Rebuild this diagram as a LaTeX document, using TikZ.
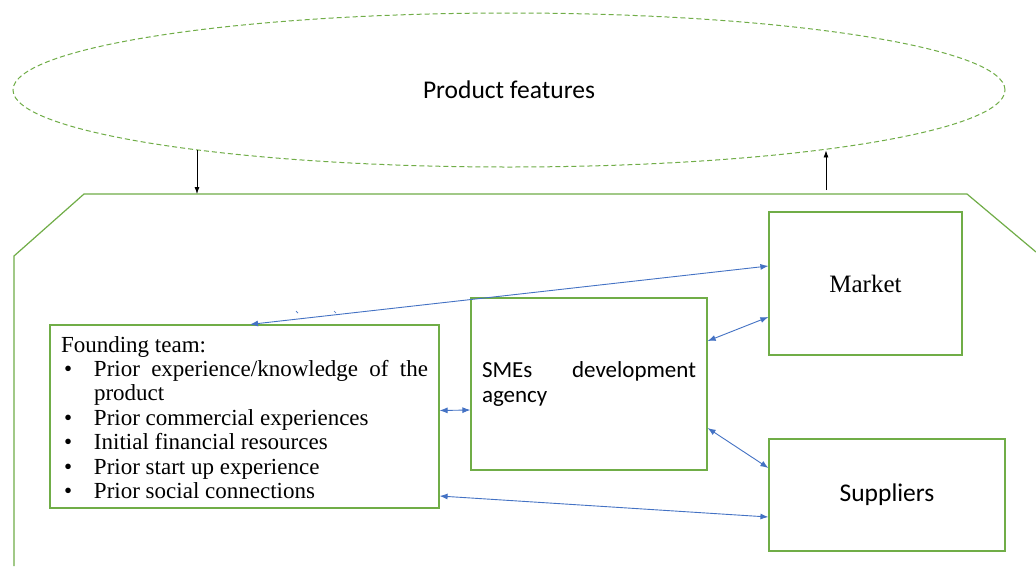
\documentclass[tikz,border=0pt]{standalone}
\usepackage{fontspec}
\setmainfont{Liberation Serif}
\newfontfamily\calib{Carlito}
\usetikzlibrary{shapes.geometric,arrows.meta}
\definecolor{grn}{RGB}{112,173,71}
\definecolor{blu}{RGB}{68,114,196}
\newcommand\bulitem[1]{\par\hangindent=33pt\hangafter=1\noindent\makebox[33pt][l]{\hspace*{3pt}\textbullet}#1}
\begin{document}
\begin{tikzpicture}[x=1pt,y=-1pt,
  gbox/.style={draw=grn,line width=1.2pt,inner sep=0pt},
  link/.style={draw=blu,line width=0.9pt,{Latex[length=8pt,width=6pt]}-{Latex[length=8pt,width=6pt]}},
  blk/.style={draw=black,line width=0.8pt,-{Latex[length=7pt,width=5pt]}}]
\useasboundingbox (0,0) rectangle (1036,566);
\fill[white] (0,0) rectangle (1036,566);
% ellipse
\node[ellipse,draw=grn,line width=1pt,dash pattern=on 5pt off 3pt,minimum width=992pt,minimum height=154pt,inner sep=0pt,font=\calib\fontsize{25.5}{30}\selectfont] (pf) at (509,90) {Product features};
% outer polygon
\coordinate (pa) at (14,566);
\coordinate (pb) at (14,256);
\coordinate (pc) at (84,194);
\coordinate (pd) at (967,194);
\coordinate (pe) at (1036,252);
\draw[grn,line width=1.2pt] (pa) -- (pb) -- (pc) -- (pd) -- (pe);
\coordinate (t1) at (197,194);
\coordinate (t2) at (826,190);
\draw[blk] (t1 |- pf.191) -- (t1);
\draw[blk] (t2) -- (t2 |- pf.-11);
% boxes
\node[gbox,minimum width=389pt,minimum height=183pt] (found) at (244.5,416.5) {};
\node[text width=367pt,align=justify,inner sep=0pt,font=\fontsize{23}{24.4}\selectfont] (foundtxt) at ([yshift=-1pt]found.center) {%
\noindent Founding team:
\bulitem{Prior experience/knowledge of the product}
\bulitem{Prior commercial experiences}
\bulitem{Initial financial resources}
\bulitem{Prior start up experience}
\bulitem{Prior social connections}};
\node[gbox,minimum width=236pt,minimum height=172pt,text width=214pt,align=justify,font=\calib\fontsize{23}{25}\selectfont] (sme) at (589,384) {SMEs development agency};
\node[gbox,minimum width=193pt,minimum height=143pt,font=\fontsize{25}{28}\selectfont] (market) at (865.5,283.5) {Market};
\node[gbox,minimum width=236pt,minimum height=112pt,font=\calib\fontsize{25.5}{30}\selectfont] (supp) at (887,495) {Suppliers};
% connectors
\draw[link] ([xshift=5.5pt]found.north) -- ([yshift=17.5pt]market.west);
\draw[link] ([yshift=6pt]found.east) -- ([yshift=-26pt]sme.west);
\draw[link] ([yshift=43pt]sme.east) -- ([yshift=-33.5pt]market.west);
\draw[link] ([yshift=-44pt]sme.east) -- ([yshift=27pt]supp.west);
\draw[link] ([yshift=-79.5pt]found.east) -- ([yshift=-22pt]supp.west);
% small marks
\coordinate (m1) at (296,311);
\coordinate (m2) at (334,311);
\draw[blu,line width=0.7pt] (m1) -- ++(2,2);
\draw[blu,line width=0.7pt] (m2) -- ++(2,2);
\end{tikzpicture}
\end{document}
